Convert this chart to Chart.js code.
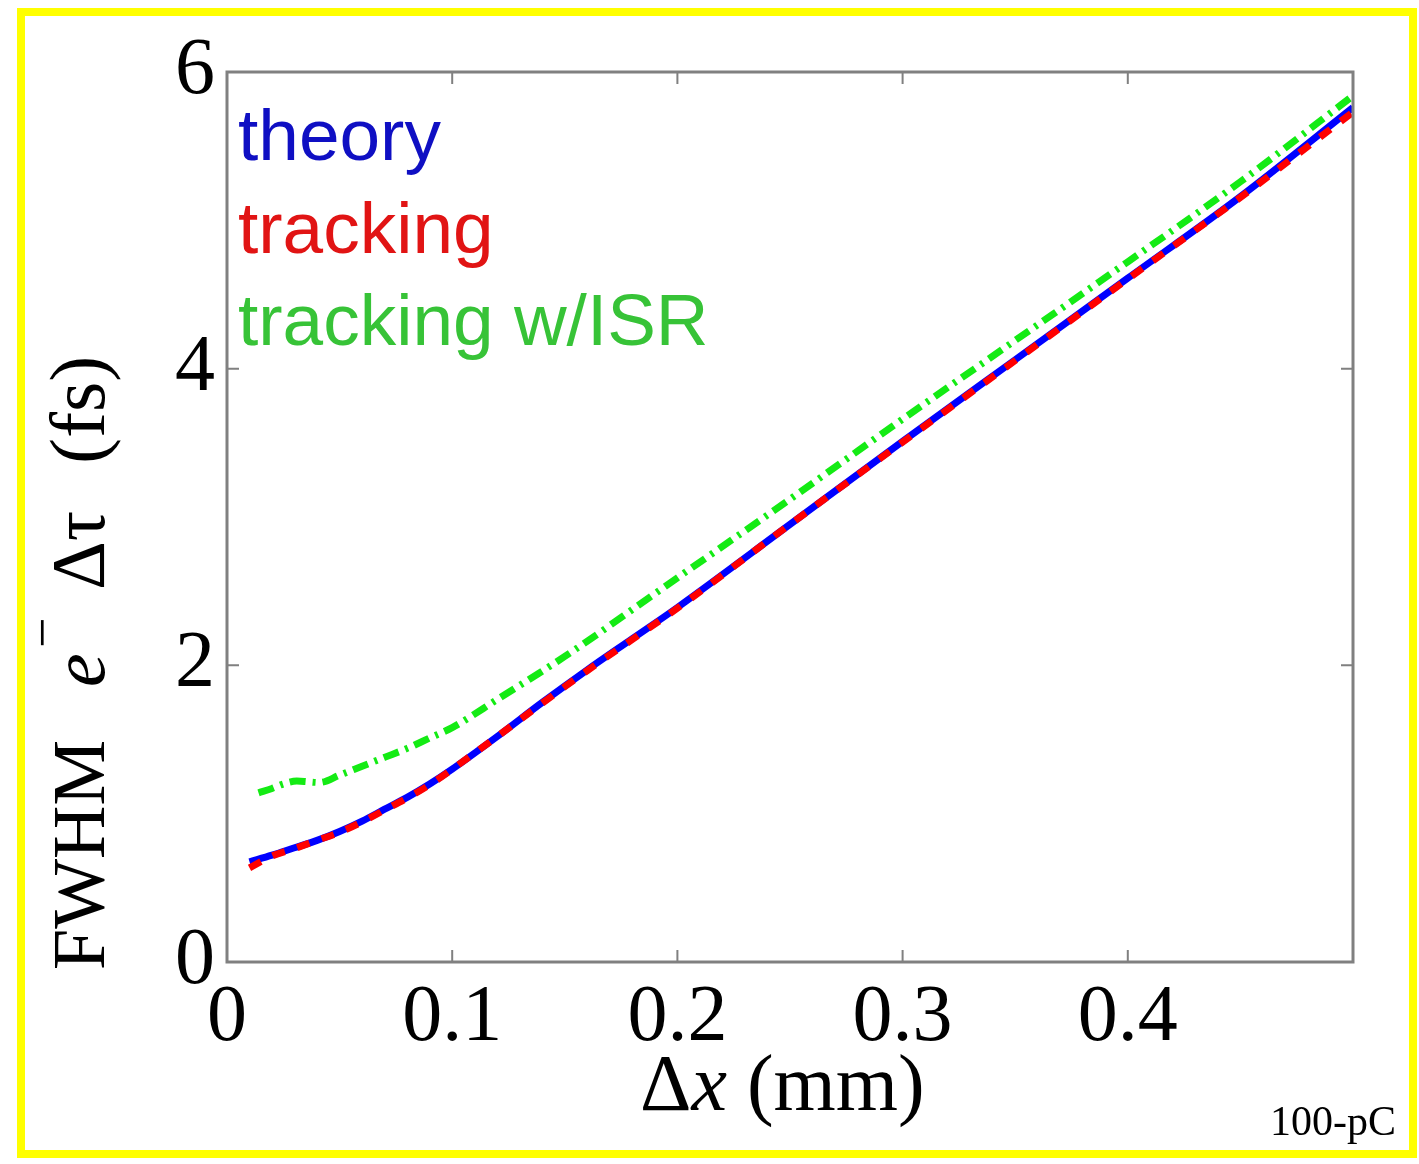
<!DOCTYPE html>
<html>
<head>
<meta charset="utf-8">
<script src="https://cdn.jsdelivr.net/npm/chart.js@4.4.0/dist/chart.umd.min.js"></script>
<style>
    html, body { margin: 0; padding: 0; background: #fff; }
    #contenedor { width: 1419px; height: 1164px; }
</style>
</head>
<body>
<div id="contenedor"><canvas id="fwhmChart"></canvas></div>
<script>
// Datos (Δx en mm, FWHM en fs)
const xTeoria = [0.01, 0.02, 0.03, 0.04, 0.05, 0.06, 0.07, 0.08, 0.09, 0.10, 0.12, 0.14, 0.16, 0.18, 0.20, 0.25, 0.30, 0.35, 0.40, 0.45, 0.50];
const yTeoria = [0.675, 0.72, 0.77, 0.82, 0.88, 0.95, 1.03, 1.11, 1.20, 1.30, 1.52, 1.75, 1.97, 2.18, 2.39, 2.95, 3.51, 4.06, 4.61, 5.16, 5.76];
const yTracking = [0.635, 0.715, 0.765, 0.82, 0.875, 0.945, 1.025, 1.105, 1.195, 1.30, 1.52, 1.745, 1.965, 2.175, 2.385, 2.95, 3.505, 4.055, 4.605, 5.155, 5.73];
const xIsr = [0.014, 0.02, 0.025, 0.031, 0.036, 0.041, 0.05, 0.06, 0.07, 0.08, 0.09, 0.10, 0.12, 0.15, 0.20, 0.25, 0.30, 0.35, 0.40, 0.45, 0.50];
const yIsr = [1.14, 1.17, 1.20, 1.22, 1.215, 1.21, 1.26, 1.32, 1.38, 1.44, 1.51, 1.58, 1.77, 2.06, 2.59, 3.12, 3.66, 4.19, 4.72, 5.26, 5.84];

const etiquetas = ['theory', 'tracking', 'tracking w/ISR'];
const xTicks = [0, 0.1, 0.2, 0.3, 0.4, 0.5];
const yTicks = [0, 2, 4, 6];

const puntos = (xs, ys) => xs.map((x, i) => ({ x: x, y: ys[i] }));

// Marco amarillo, caja de ejes, leyenda y títulos
const decoracion = {
    id: 'decoracion',
    beforeDraw(chart) {
        const ctx = chart.ctx;
        ctx.save();
        ctx.fillStyle = '#fff';
        ctx.fillRect(0, 0, chart.width, chart.height);
        ctx.strokeStyle = '#ffff00';
        ctx.lineWidth = 8;
        ctx.strokeRect(21, 12, 1392, 1142);
        ctx.restore();
    },
    afterDraw(chart) {
        const ctx = chart.ctx;
        const a = chart.chartArea;
        const sx = chart.scales.x, sy = chart.scales.y;
        ctx.save();

        // caja gris
        ctx.strokeStyle = '#808080';
        ctx.lineWidth = 3;
        ctx.strokeRect(a.left, a.top, a.right - a.left, a.bottom - a.top);

        // marcas hacia dentro
        ctx.lineWidth = 2;
        ctx.beginPath();
        xTicks.forEach(v => {
            const px = sx.getPixelForValue(v);
            ctx.moveTo(px, a.bottom); ctx.lineTo(px, a.bottom - 12);
            ctx.moveTo(px, a.top); ctx.lineTo(px, a.top + 12);
        });
        yTicks.forEach(v => {
            const py = sy.getPixelForValue(v);
            ctx.moveTo(a.left, py); ctx.lineTo(a.left + 12, py);
            ctx.moveTo(a.right, py); ctx.lineTo(a.right - 12, py);
        });
        ctx.stroke();

        // leyenda como texto de color
        const coloresTexto = ['rgb(15,15,195)', 'rgb(225,20,20)', 'rgb(55,195,55)'];
        const bases = [160, 253, 345];
        ctx.font = '73px "Liberation Sans"';
        ctx.textAlign = 'left';
        ctx.textBaseline = 'alphabetic';
        chart.data.datasets.forEach((ds, i) => {
            ctx.fillStyle = coloresTexto[i];
            ctx.fillText(ds.label, 238, bases[i]);
        });

        // título eje x: Δx (mm)
        ctx.fillStyle = '#000';
        let x = 640;
        const yb = 1110;
        ctx.font = '80px "Liberation Serif"';
        ctx.fillText('Δ', x, yb); x += ctx.measureText('Δ').width;
        ctx.font = 'italic 80px "Liberation Serif"';
        ctx.fillText('x', x, yb); x += ctx.measureText('x').width;
        ctx.font = '80px "Liberation Serif"';
        ctx.fillText(' (mm)', x, yb);

        // título eje y: FWHM e⁻ Δτ (fs)
        ctx.save();
        ctx.translate(104, 0);
        ctx.rotate(-Math.PI / 2);
        ctx.font = '74px "Liberation Serif"';
        ctx.fillText('FWHM', -970, 0);
        ctx.font = 'italic 76px "Liberation Serif"';
        ctx.fillText('e', -687, 0);
        ctx.font = '54px "Liberation Serif"';
        ctx.fillText('−', -648, -44);
        ctx.font = '76px "Liberation Serif"';
        ctx.fillText('Δτ', -590, 0);
        ctx.font = '78px "Liberation Serif"';
        ctx.fillText('(fs)', -464, 0);
        ctx.restore();

        // nota
        ctx.font = '42px "Liberation Serif"';
        ctx.textAlign = 'right';
        ctx.fillText('100-pC', 1396, 1135);
        ctx.restore();
    }
};

new Chart(document.getElementById('fwhmChart').getContext('2d'), {
    type: 'line',
    data: {
        datasets: [{
            label: etiquetas[0],
            data: puntos(xTeoria, yTeoria),
            borderColor: 'rgb(0,0,255)',
            borderWidth: 7,
            order: 3
        }, {
            label: etiquetas[1],
            data: puntos(xTeoria, yTracking),
            borderColor: 'rgb(255,0,0)',
            borderWidth: 7,
            borderDash: [13, 13],
            order: 2
        }, {
            label: etiquetas[2],
            data: puntos(xIsr, yIsr),
            borderColor: 'rgb(20,235,20)',
            borderWidth: 7,
            borderDash: [16, 7, 3, 7],
            order: 1
        }]
    },
    options: {
        responsive: true,
        maintainAspectRatio: false,
        animation: false,
        devicePixelRatio: 1,
        elements: {
            point: { radius: 0 },
            line: { cubicInterpolationMode: 'monotone', fill: false, borderCapStyle: 'butt' }
        },
        layout: { padding: { left: 127, right: 66, top: 72, bottom: 52 } },
        plugins: {
            legend: { display: false },
            tooltip: { enabled: false }
        },
        scales: {
            x: {
                type: 'linear',
                min: 0,
                max: 0.5,
                afterBuildTicks: s => { s.ticks = xTicks.map(v => ({ value: v })); },
                afterFit: s => { s.height = 150; },
                grid: { display: false, drawTicks: false },
                border: { display: false },
                ticks: {
                    autoSkip: false,
                    maxRotation: 0,
                    padding: 9,
                    color: '#000',
                    font: { family: 'Liberation Serif', size: 80 },
                    callback: v => v >= 0.5 ? '' : (v === 0 ? '0' : v.toFixed(1))
                }
            },
            y: {
                min: 0,
                max: 6,
                afterBuildTicks: s => { s.ticks = yTicks.map(v => ({ value: v })); },
                afterFit: s => { s.width = 100; },
                grid: { display: false, drawTicks: false },
                border: { display: false },
                ticks: {
                    padding: 12,
                    color: '#000',
                    font: { family: 'Liberation Serif', size: 80 },
                    callback: v => String(v)
                }
            }
        }
    },
    plugins: [decoracion]
});
</script>
</body>
</html>
